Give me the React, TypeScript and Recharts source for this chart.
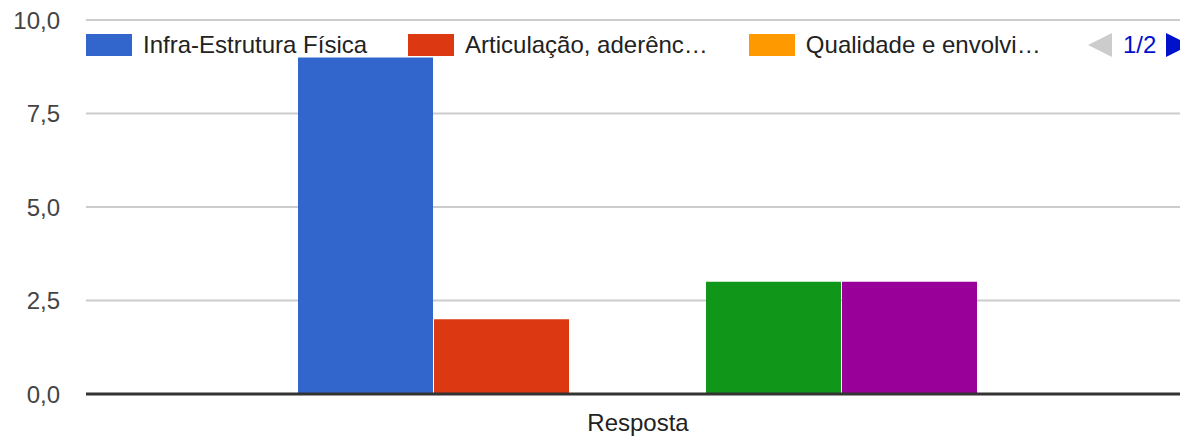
import { Bar, BarChart, CartesianGrid, Legend, XAxis, YAxis } from "recharts";

const categories = ["Resposta"];
const seriesNames = [
  "Infra-Estrutura Física",
  "Articulação, aderênc…",
  "Qualidade e envolvi…",
  "Série 4",
  "Série 5",
];
const seriesValues = [9, 2, 0, 3, 3];
const seriesColors = ["#3366cc", "#dc3912", "#ff9900", "#109618", "#990099"];
const yTicks = [0, 2.5, 5, 7.5, 10];
const legendPage = "1/2";

const data = categories.map((name) => {
  const row: Record<string, string | number> = { name };
  seriesValues.forEach((v, i) => {
    row[`s${i}`] = v;
  });
  return row;
});

const FONT = "Arial, 'Liberation Sans', sans-serif";

function formatTick(value: number) {
  return value.toFixed(1).replace(".", ",");
}

function PagedLegend({ payload }: { payload?: { value: string; color: string }[] }) {
  // keep series order, first page only
  const items = [...(payload ?? [])]
    .sort((a, b) => seriesNames.indexOf(a.value) - seriesNames.indexOf(b.value))
    .slice(0, 3);
  return (
    <div
      style={{
        position: "relative",
        height: 22,
        fontFamily: FONT,
        fontSize: 24,
        color: "#222",
      }}
    >
      <div style={{ display: "flex", alignItems: "center", paddingLeft: 86, height: 22 }}>
        {items.map((item) => (
          <div key={item.value} style={{ display: "flex", alignItems: "center", marginRight: 41 }}>
            <span
              style={{
                display: "inline-block",
                width: 46,
                height: 22,
                background: item.color,
                marginRight: 11,
              }}
            />
            <span style={{ whiteSpace: "nowrap", lineHeight: "22px" }}>{item.value}</span>
          </div>
        ))}
      </div>
      <svg style={{ position: "absolute", left: 1088, top: -1 }} width={24} height={24}>
        <polygon points="0,12 24,0 24,24" fill="#cccccc" />
      </svg>
      <span
        style={{
          position: "absolute",
          left: 1123,
          top: 0,
          lineHeight: "22px",
          color: "#0011cc",
        }}
      >
        {legendPage}
      </span>
      <svg style={{ position: "absolute", left: 1166, top: -1 }} width={24} height={24}>
        <polygon points="0,0 24,12 0,24" fill="#0011cc" />
      </svg>
    </div>
  );
}

export default function App() {
  return (
    <div
      style={{
        position: "absolute",
        left: 0,
        top: 0,
        width: 1180,
        height: 437,
        overflow: "hidden",
        background: "#fff",
      }}
    >
      <BarChart
        width={1190}
        height={437}
        data={data}
        margin={{ top: 20, right: 0, bottom: 0, left: 0 }}
        barCategoryGap={212}
        barGap={1}
      >
        <CartesianGrid vertical={false} stroke="#cccccc" strokeWidth={2} />
        <XAxis
          dataKey="name"
          height={43}
          tickLine={false}
          tickSize={0}
          tickMargin={20}
          axisLine={{ stroke: "#333333", strokeWidth: 3 }}
          tick={{ fill: "#222222", fontSize: 24, fontFamily: FONT }}
        />
        <YAxis
          domain={[0, 10]}
          ticks={yTicks}
          width={86}
          axisLine={false}
          tickLine={false}
          tickSize={0}
          tickMargin={26}
          tickFormatter={formatTick}
          tick={{ fill: "#444444", fontSize: 24, fontFamily: FONT }}
        />
        <Legend
          layout="horizontal"
          verticalAlign="middle"
          content={<PagedLegend />}
          wrapperStyle={{ top: 34, left: 0, width: 1190, height: 22 }}
        />
        {seriesValues.map((_, i) => (
          <Bar
            key={i}
            dataKey={`s${i}`}
            name={seriesNames[i]}
            fill={seriesColors[i]}
            isAnimationActive={false}
          />
        ))}
      </BarChart>
    </div>
  );
}
